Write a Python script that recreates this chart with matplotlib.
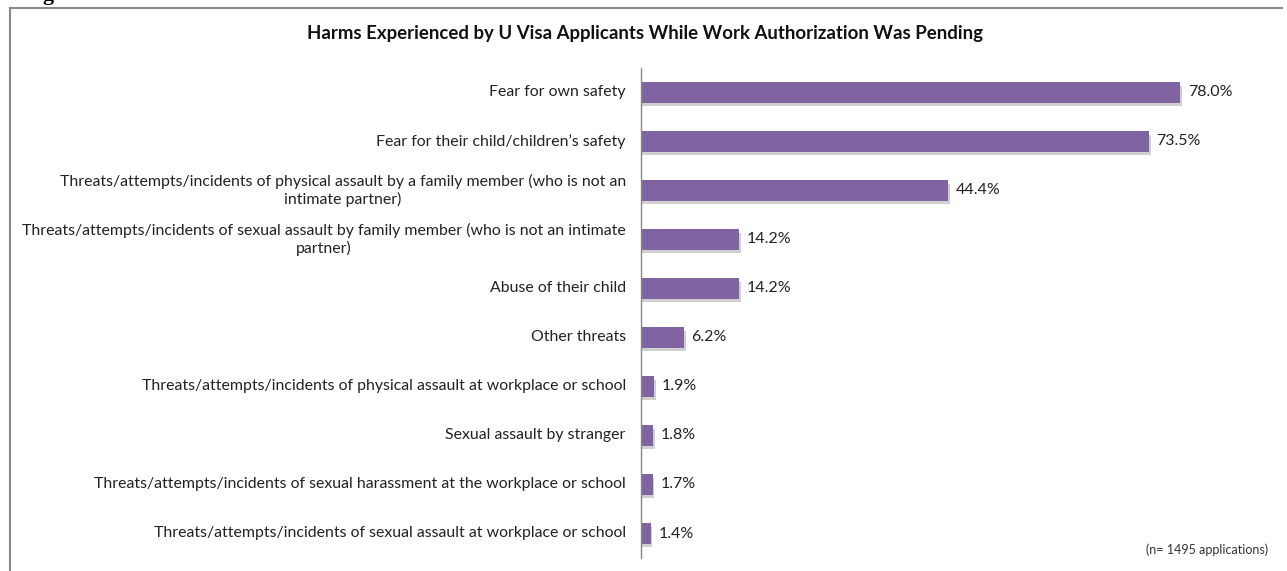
import matplotlib
matplotlib.use("Agg")
import matplotlib.pyplot as plt
from matplotlib.lines import Line2D

plt.rcParams['font.family'] = ['Lato', 'DejaVu Sans']

TITLE = "Harms Experienced by U Visa Applicants While Work Authorization Was Pending"

CATEGORIES = [
    "Fear for own safety",
    "Fear for their child/children\u2019s safety",
    "Threats/attempts/incidents of physical assault by a family member (who is not an\nintimate partner)",
    "Threats/attempts/incidents of sexual assault by family member (who is not an intimate\npartner)",
    "Abuse of their child",
    "Other threats",
    "Threats/attempts/incidents of physical assault at workplace or school",
    "Sexual assault by stranger",
    "Threats/attempts/incidents of sexual harassment at the workplace or school",
    "Threats/attempts/incidents of sexual assault at workplace or school",
]
PERCENTS = [78.0, 73.5, 44.4, 14.2, 14.2, 6.2, 1.9, 1.8, 1.7, 1.4]

NOTE = "(n= 1495 applications)"

BAR_COLOR = "#8064A2"
SHADOW = "#bdbdbd"

fig = plt.figure(figsize=(12.87, 5.71), dpi=100)

# outer frame around the chart (top and left edges show)
fig.add_artist(Line2D([10 / 1287, 1282 / 1287], [1 - 8 / 571, 1 - 8 / 571],
                      transform=fig.transFigure, color="#8a8a8a", lw=1.5))
fig.add_artist(Line2D([10 / 1287, 10 / 1287], [0, 1 - 8 / 571],
                      transform=fig.transFigure, color="#8a8a8a", lw=1.5))

# caption above the frame, mostly cut off
fig.text(0.018, 0.992, "Figure 6", family="Liberation Serif", fontsize=16,
         fontweight="bold", ha="left", va="bottom")

ax = fig.add_axes([641 / 1287, 13 / 571, 622 / 1287, 490 / 571])

ypos = list(range(len(CATEGORIES)))
# soft drop shadow under each bar
ax.barh([y + 0.07 for y in ypos], [p + 0.25 for p in PERCENTS], height=0.42,
        color=SHADOW, alpha=0.7, zorder=1)
ax.barh(ypos, PERCENTS, height=0.42, color=BAR_COLOR, zorder=2)

for y, p in zip(ypos, PERCENTS):
    ax.text(p + 1.1, y, f"{p:.1f}%", va="center", ha="left",
            fontsize=11.5, color="#222222")

for y, lab in zip(ypos, CATEGORIES):
    ax.text(-2.2, y, lab, va="center", ha="right", multialignment="center",
            fontsize=11.4, color="#222222", clip_on=False)

ax.set_xlim(0, 90)
ax.set_ylim(len(CATEGORIES) - 0.5, -0.5)
ax.set_xticks([])
ax.set_yticks([])
for side in ("top", "right", "bottom"):
    ax.spines[side].set_visible(False)
ax.spines["left"].set_color("#888888")
ax.spines["left"].set_linewidth(1.0)

fig.text(645 / 1287, 1 - 34 / 571, TITLE, ha="center", va="center",
         fontsize=13.4, fontweight="bold", color="#111111")
fig.text(1268 / 1287, 1 - 550 / 571, NOTE, ha="right", va="center",
         fontsize=9, color="#333333")

fig.savefig("out.png", dpi=100)
